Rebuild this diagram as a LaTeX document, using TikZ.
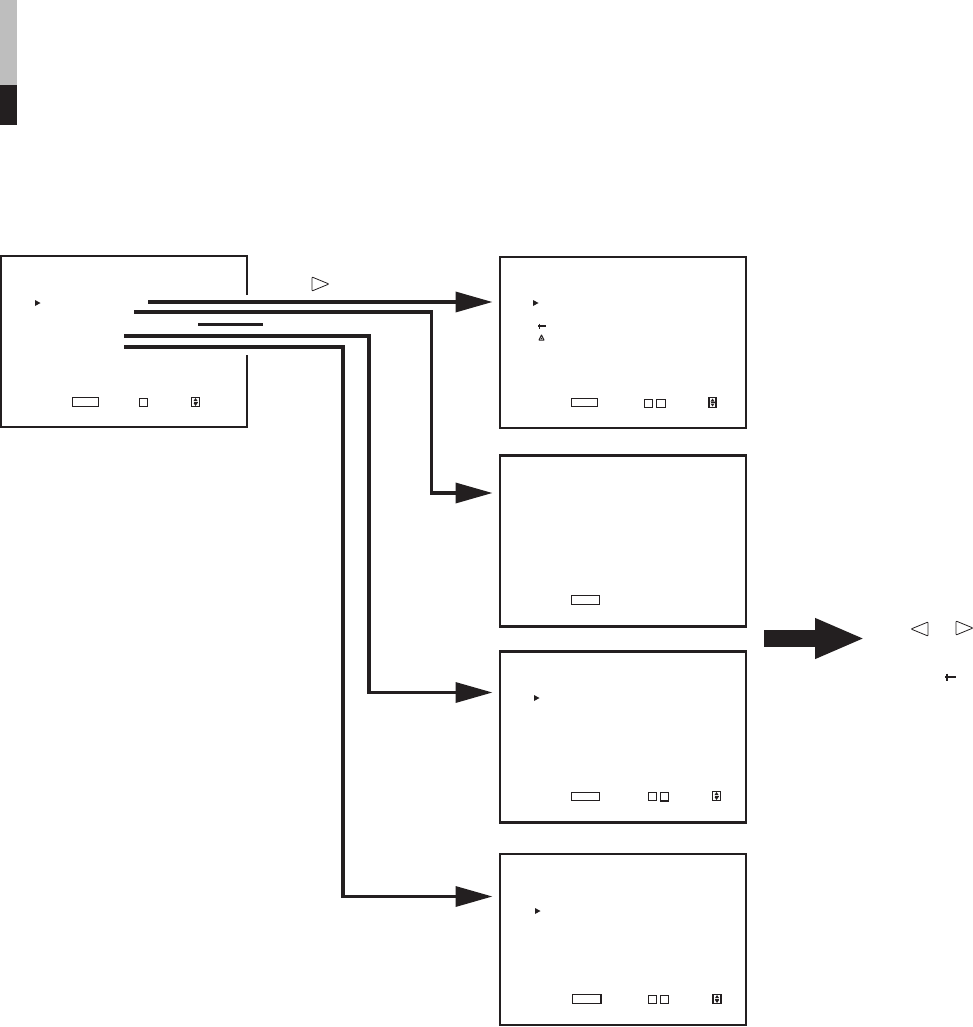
\documentclass[tikz,border=0pt]{standalone}
\usepackage{tikz}
\usetikzlibrary{positioning,arrows.meta,calc}
\definecolor{ink}{RGB}{35,31,32}
\definecolor{tabgray}{RGB}{190,190,190}
\definecolor{tabdark}{RGB}{35,31,32}

\tikzset{
    cursor/.pic={\fill[ink] (0,-3) -- (5.5,0) -- (0,3) -- cycle;},
    keytri/.pic={\draw[ink, line width=0.8pt, line join=round, rounded corners=0.8pt] (0,-7) -- (17,0) -- (0,7) -- cycle;},
    jog/.pic={\draw[ink, line width=1.3pt] (0,0) -- (8,0) (1.5,-2.5) -- (1.5,2.5);},
    alert/.pic={\draw[ink, line width=1pt, line join=round] (-2.5,2.5) -- (0,-2.5) -- (2.5,2.5) -- cycle; \fill[ink] (0,1) circle (0.8);},
    updown/.pic={\fill[ink] (-2,-1) -- (0,-4) -- (2,-1) -- cycle (-2,1) -- (0,4) -- (2,1) -- cycle;
        \draw[ink, line width=0.5pt] (-2,0) -- (2,0);}
}

\begin{document}
\begin{tikzpicture}[x=1pt, y=-1pt,
    screen/.style={draw=ink, line width=2.5pt, minimum width=246pt, minimum height=171pt, inner sep=0pt, outer sep=0pt},
    field/.style={draw=ink, line width=1pt, minimum width=26pt, minimum height=8.5pt, inner sep=0pt},
    tickbox/.style={draw=ink, line width=1pt, minimum width=8.5pt, minimum height=8.5pt, inner sep=0pt},
    scroll/.style={draw=ink, line width=1.4pt, minimum width=8pt, minimum height=9.5pt, inner sep=0pt},
    wire/.style={draw=ink, line width=3.5pt},
    conn/.style={draw=ink, line width=3.5pt, -{Triangle[length=37pt, width=20pt]}},
    bigarrow/.style={draw=ink, line width=17pt, -{Triangle[length=50pt, width=37pt]}},
    node distance=27.5pt
]
    \useasboundingbox (0,0) rectangle (973,1027);

    % side tab
    \fill[tabgray] (0,0) rectangle (17,85);
    \fill[tabdark] (0,85) rectangle (17,125);

    % menu screen (right edge opened for the wires)
    \node[screen, draw=none] (menu) at (124.2,341.7) {};
    \draw[ink, line width=2.5pt] ($(menu.north east)+(0,39)$) |- (menu.north west)
        -- (menu.south west) -- (menu.south east) -- ++(0,-72);
    \pic at (35,303) {cursor};
    \node[field] (menuF) at (85.5,402) {};
    \node[tickbox] (menuT) at (143.5,402.5) {};
    \node[scroll] (menuS) at (195.5,402) {};
    \pic at (menuS.center) {updown};

    % sub screens
    \node[screen] (scrA) at (623,342.5) {};
    \node[screen, below=27.5pt of scrA] (scrB) {};
    \node[screen, below=25pt of scrB] (scrC) {};
    \node[screen, below=31.5pt of scrC] (scrD) {};

    \pic at (533,303) {cursor};
    \pic at (538,326) {jog};
    \pic at (541.5,337.5) {alert};
    \node[field] (scrAF) at (584.5,402.5) {};
    \node[tickbox] (scrAT1) at (648.5,403.5) {};
    \node[tickbox] (scrAT2) at (661,403.5) {};
    \node[scroll, minimum width=7pt] (scrAS) at (712.5,402.5) {};
    \pic at (scrAS.center) {updown};

    \node[field, minimum width=28pt] (scrBF) at (585,600) {};

    \pic at (534,698) {cursor};
    \node[field, minimum width=28.5pt] (scrCF) at (585.5,796.5) {};
    \node[tickbox] (scrCT1) at (652.5,796.5) {};
    \node[tickbox] (scrCT2) at (664.5,796.5) {};
    \draw[ink, line width=1.6pt] (scrCT2.south west) -- (scrCT2.south east);
    \node[scroll] (scrCS) at (716.5,796) {};
    \pic at (scrCS.center) {updown};

    \pic at (535,911) {cursor};
    \node[field, minimum width=28pt] (scrDF) at (586,999) {};
    \draw[ink, line width=2pt] (scrDF.north east) -- (scrDF.south east);
    \node[tickbox] (scrDT1) at (652.5,999.5) {};
    \node[tickbox] (scrDT2) at (664.5,999.5) {};
    \node[scroll] (scrDS) at (717,999) {};
    \pic at (scrDS.center) {updown};

    % wire ends
    \coordinate (o1) at (148,302);
    \coordinate (o2) at (134,312);
    \coordinate (o3) at (124,336);
    \coordinate (o4) at (124,347);
    \coordinate (inA) at ($(scrA.north west)+(-7.5,45)$);
    \coordinate (inB) at ($(scrB.north west)+(-7.5,37.5)$);
    \coordinate (inC) at ($(scrC.north west)+(-7.5,41)$);
    \coordinate (inD) at ($(scrD.north west)+(-7.5,42.5)$);

    \draw[conn] (o1) -- (inA);
    \draw[conn] (o2) -| ([xshift=-61pt]inB) -- (inB);
    \draw[wire, line width=3pt] (198,324) -- (263,324);
    \draw[conn] (o3) -| ([xshift=-123.5pt]inC) -- (inC);
    \draw[conn] (o4) -| ([xshift=-149.5pt]inD) -- (inD);

    \pic at (312,284) {keytri};

    % result
    \coordinate (bigS) at (764,638.5);
    \coordinate (bigT) at (865,638.5);
    \draw[bigarrow] (bigS) -- (bigT);
    \pic[rotate=180] at (928,629) {keytri};
    \pic at (956,628) {keytri};
    \pic[scale=1.4] at (945,677) {jog};
\end{tikzpicture}
\end{document}
